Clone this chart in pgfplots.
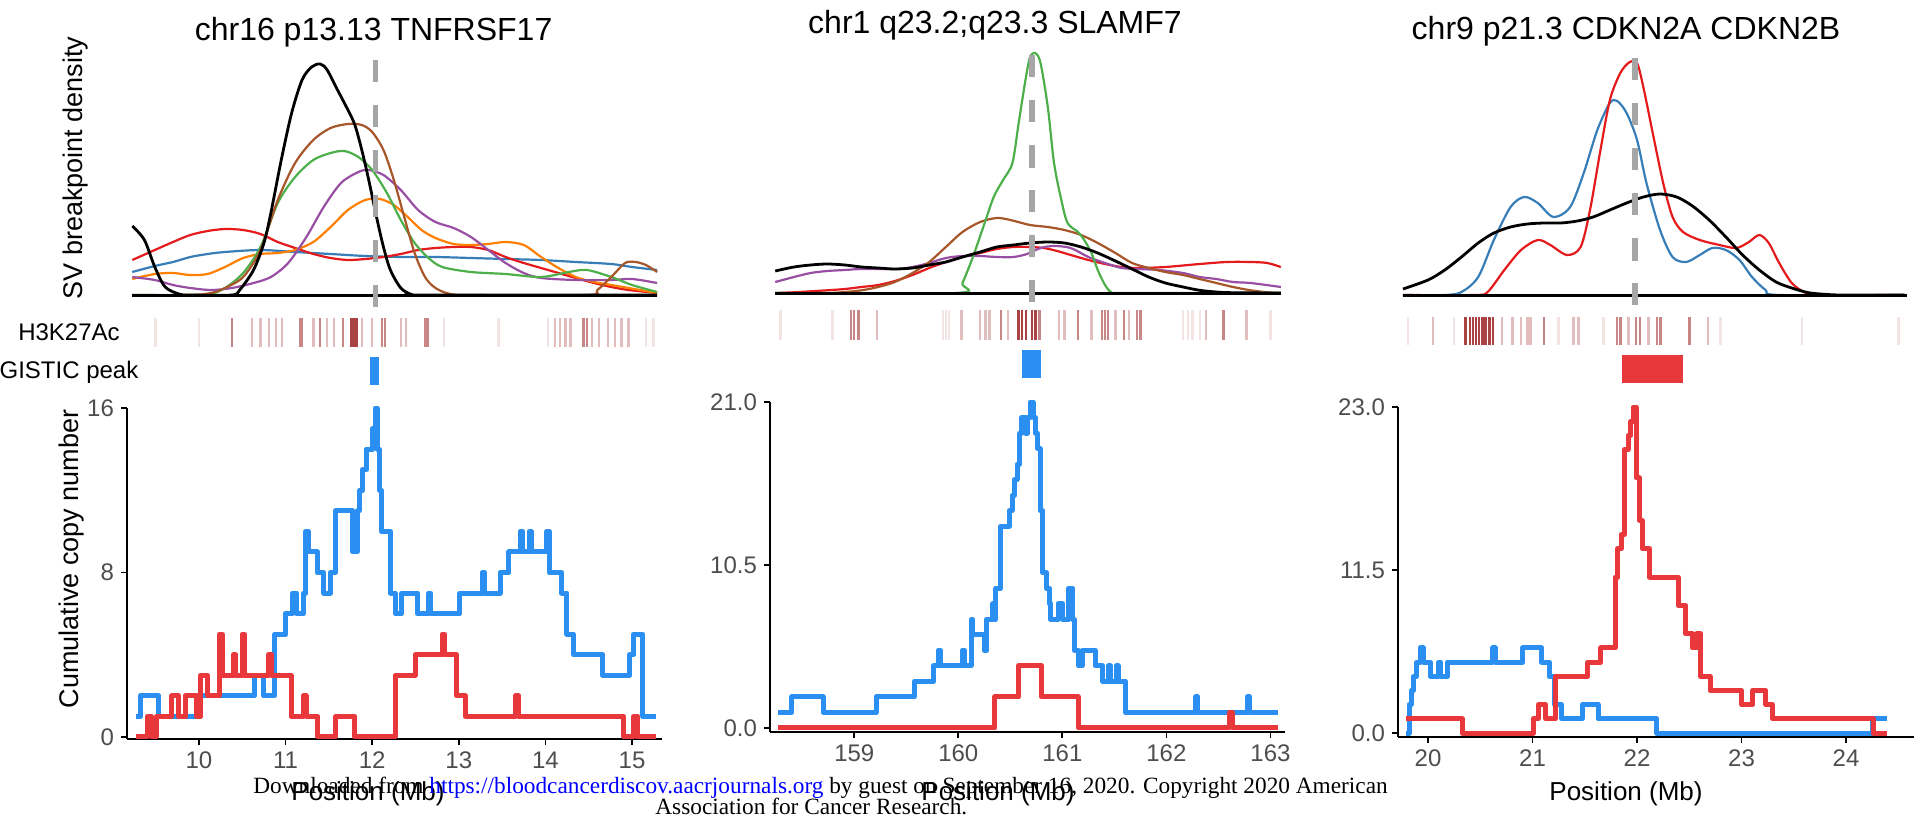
\documentclass[border=0pt]{standalone}
\usepackage{fontspec}
\setmainfont{Liberation Sans}
\newfontfamily\footfont{Liberation Serif}
\usepackage{pgfplots}
\pgfplotsset{compat=1.18}

\definecolor{setred}{HTML}{E41A1C}
\definecolor{setblue}{HTML}{377EB8}
\definecolor{setgreen}{HTML}{4DAF4A}
\definecolor{setpurple}{HTML}{984EA3}
\definecolor{setorange}{HTML}{FF7F00}
\definecolor{setbrown}{HTML}{A65628}
\definecolor{cnblue}{RGB}{42,143,240}
\definecolor{cnred}{RGB}{232,56,60}
\definecolor{h3}{RGB}{155,35,35}
\definecolor{peakgray}{RGB}{166,166,166}
\definecolor{ticktext}{RGB}{77,77,77}

\pgfplotsset{
  dens/.style={scale only axis, hide axis, clip=false, height=132.5pt,
    every axis plot/.append style={smooth, tension=0.5, line width=1.1pt}},
  track/.style={scale only axis, hide axis, clip=false, height=47.5pt,
    every axis plot/.append style={mark=none}},
  h3bar/.style={ycomb, draw=h3, line width=1.2pt},
  cn/.style={scale only axis, clip=false,
    axis x line=bottom, axis y line=left,
    axis line style={-, line width=1.1pt, black},
    tick align=outside, major tick length=3pt,
    major tick style={line width=0.9pt, black},
    ticklabel style={font=\fontsize{12}{12}\selectfont, text=ticktext},
    every axis plot/.append style={const plot, line width=2.5pt, line join=round}},
  vdash/.style={peakgray, line width=2.8pt, dash pattern=on 11pt off 11.5pt},
}

\begin{document}
\begin{tikzpicture}
\useasboundingbox (0,0) rectangle (957pt,408pt);

% ---------------- column 1: chr16 ----------------
\begin{axis}[dens, at={(63.5pt,253pt)}, anchor=south west, width=267.5pt,
  xmin=9.169, xmax=15.346, ymin=-15, ymax=250]
\addplot[setblue] coordinates {(9.23,23)(9.49,29)(9.70,33)(9.90,38)(10.10,41)(10.30,43)(10.71,45)(11.11,43)(11.52,41)(11.92,39)(12.33,38)(12.73,38)(13.14,37)(13.54,36)(13.95,35)(14.35,33)(14.76,31)(15.00,28)(15.29,25)};
\addplot[setred] coordinates {(9.23,35)(9.49,45)(9.70,53)(9.90,60)(10.10,64)(10.30,66)(10.51,65)(10.71,61)(10.91,53)(11.11,47)(11.32,41)(11.52,37)(11.72,35)(11.92,36)(12.13,38)(12.33,41)(12.53,45)(12.73,47)(12.94,48)(13.14,48)(13.34,45)(13.54,38)(13.75,32)(13.95,27)(14.15,22)(14.35,17)(14.56,12)(14.76,8)(14.96,5)(15.29,2)};
\addplot[setorange] coordinates {(9.23,16)(9.49,21)(9.70,22)(9.90,20)(10.10,21)(10.30,28)(10.51,37)(10.71,41)(10.91,42)(11.11,45)(11.32,53)(11.52,68)(11.72,85)(11.92,95)(12.09,96)(12.25,90)(12.41,78)(12.57,65)(12.73,57)(12.94,51)(13.14,50)(13.34,51)(13.54,53)(13.75,50)(13.95,38)(14.15,27)(14.35,18)(14.56,13)(14.76,10)(14.96,7)(15.29,2)};
\addplot[setpurple] coordinates {(9.23,18)(9.49,15)(9.70,10)(9.90,7)(10.14,5)(10.38,7)(10.63,12)(10.83,18)(11.03,32)(11.24,58)(11.44,88)(11.64,112)(11.84,123)(11.96,125)(12.13,120)(12.33,105)(12.53,85)(12.73,73)(12.94,67)(13.14,58)(13.34,45)(13.54,32)(13.75,22)(13.95,17)(14.35,15)(14.76,15)(15.00,16)(15.29,12)};
\addplot[setgreen] coordinates {(9.23,0)(9.70,0)(10.10,0.5)(10.30,7)(10.51,22)(10.71,48)(10.91,92)(11.11,118)(11.32,135)(11.52,142)(11.68,144)(11.84,138)(12.00,125)(12.17,102)(12.33,75)(12.49,52)(12.65,37)(12.81,28)(13.14,23)(13.54,21)(13.95,18)(14.27,23)(14.48,25)(14.76,18)(15.00,10)(15.29,3)};
\addplot[setbrown] coordinates {(9.23,0)(9.90,0)(10.14,2)(10.30,7)(10.51,18)(10.71,45)(10.91,95)(11.11,132)(11.32,155)(11.52,167)(11.72,171)(11.88,170)(12.00,163)(12.13,145)(12.25,115)(12.37,78)(12.49,42)(12.61,18)(12.73,7)(12.90,1)(13.14,0)(14.48,0)(14.60,5)(14.76,18)(14.92,32)(15.04,33)(15.16,30)(15.29,23)};
\addplot[black, line width=1.5pt] coordinates {(9.23,0)(15.29,0)};
\addplot[black, line width=1.4pt] coordinates {(9.23,69)(9.37,55)(9.49,28)(9.61,8)(9.78,0.7)(9.90,0)(10.38,0)(10.47,5)(10.63,25)(10.75,52)(10.83,82)(10.95,135)(11.07,182)(11.19,215)(11.30,228)(11.40,231)(11.48,225)(11.60,205)(11.72,185)(11.80,170)(11.88,145)(11.96,115)(12.05,78)(12.13,48)(12.21,25)(12.33,7)(12.45,0.7)(12.57,0)(15.29,0)};
\addplot[vdash] coordinates {(12.04,235)(12.04,-13)};
\end{axis}

\begin{axis}[track, at={(63.5pt,210.5pt)}, anchor=south west, width=267.5pt,
  xmin=9.169, xmax=15.346, ymin=-48, ymax=47]
\addplot[h3bar, draw opacity=0.12] coordinates {(9.50,29)(10.00,29)(12.83,29)(13.46,29)(14.03,29)(15.16,29)(15.25,29)};
\addplot[h3bar, draw opacity=0.3] coordinates {(10.61,29)(10.71,29)(10.81,29)(10.89,29)(10.96,29)(11.32,29)(11.48,29)(11.56,29)(11.88,29)(12.00,29)(12.33,29)(12.39,29)(14.11,29)(14.17,29)(14.23,29)(14.29,29)(14.54,29)(14.62,29)(14.72,29)(14.80,29)(14.88,29)(14.96,29)};
\addplot[h3bar, draw opacity=0.55] coordinates {(10.38,29)(11.17,29)(11.19,29)(11.40,29)(11.66,29)(12.11,29)(12.15,29)(12.61,29)(12.64,29)(14.44,29)(14.48,29)};
\addplot[h3bar, draw opacity=0.85] coordinates {(11.76,29)(11.79,29)(11.82,29)};
\addplot[fill=cnblue, draw=none] coordinates {(11.97,-10)(12.08,-10)(12.08,-38)(11.97,-38)};
\end{axis}

\begin{axis}[cn, at={(63.5pt,38.5pt)}, anchor=south west, width=267.5pt, height=165.5pt,
  xmin=9.169, xmax=15.346, ymin=-0.1, ymax=16,
  xtick={10,11,12,13,14,15}, xticklabels={10,11,12,13,14,15},
  ytick={0,8,16}, yticklabels={0,8,16}]
\addplot[cnblue] coordinates {(9.275,1)(9.326,2)(9.533,1)(9.997,2)(10.641,3)(10.744,2)(10.873,5)(11.002,6)(11.079,7)(11.131,6)(11.208,7)(11.234,10)(11.260,9)(11.363,8)(11.440,7)(11.517,8)(11.579,11)(11.775,9)(11.827,11)(11.852,12)(11.888,13)(11.930,14)(12.007,15)(12.033,16)(12.058,14)(12.084,12)(12.110,10)(12.213,7)(12.265,6)(12.342,7)(12.522,6)(12.651,7)(12.677,6)(13.012,7)(13.270,8)(13.295,7)(13.476,8)(13.579,9)(13.708,10)(13.734,9)(13.811,10)(13.837,9)(14.017,10)(14.043,8)(14.187,7)(14.249,5)(14.327,4)(14.662,3)(14.971,4)(15.022,5)(15.126,1)(15.280,1)};
\addplot[cnred] coordinates {(9.275,0)(9.404,1)(9.455,0)(9.507,1)(9.687,2)(9.765,1)(9.842,2)(9.971,1)(10.022,3)(10.100,2)(10.239,5)(10.270,3)(10.398,4)(10.424,3)(10.497,5)(10.527,3)(10.806,4)(10.837,3)(11.063,1)(11.208,2)(11.239,1)(11.373,0)(11.579,1)(11.800,0)(12.265,3)(12.497,4)(12.806,5)(12.837,4)(12.971,2)(13.074,1)(13.657,2)(13.688,1)(14.904,0)(15.022,1)(15.064,0)(15.280,0)};
\end{axis}

% ---------------- column 2: chr1 ----------------
\begin{axis}[dens, at={(385pt,253pt)}, anchor=south west, width=257.5pt,
  xmin=158.19, xmax=163.14, ymin=-17, ymax=248]
\addplot[setred] coordinates {(158.24,0)(158.42,0.7)(158.58,1.7)(158.74,2.7)(158.91,4)(159.07,6)(159.23,8)(159.39,12)(159.56,18)(159.72,25)(159.88,31)(160.04,36)(160.21,40)(160.37,44)(160.53,46)(160.69,46)(160.82,45)(160.95,42)(161.08,38)(161.25,33)(161.41,29)(161.57,26)(161.73,25)(161.99,26)(162.32,29)(162.58,31)(162.81,31)(162.97,30)(163.10,26)};
\addplot[setpurple] coordinates {(158.24,11)(158.42,16)(158.58,20)(158.74,22)(158.91,23)(159.07,24)(159.39,24)(159.56,26)(159.72,30)(159.88,35)(160.04,37)(160.21,37)(160.37,36)(160.53,36)(160.66,39)(160.79,45)(160.92,47)(161.08,45)(161.25,36)(161.41,30)(161.57,25)(161.73,24)(161.93,23)(162.16,20)(162.32,16)(162.48,14)(162.64,11)(162.81,10)(163.10,6)};
\addplot[setbrown] coordinates {(158.24,0)(158.74,0)(158.91,1)(159.07,2.7)(159.23,6)(159.39,11)(159.56,20)(159.72,31)(159.88,46)(160.04,61)(160.21,71)(160.37,75)(160.50,73)(160.69,68)(160.86,66)(161.02,63)(161.18,58)(161.34,50)(161.51,40)(161.67,30)(161.83,25)(161.99,21)(162.16,18)(162.32,14)(162.48,10)(162.64,6)(162.81,2.7)(162.97,0.7)(163.10,0)};
\addplot[setgreen] coordinates {(158.24,0)(159.98,0)(160.04,10)(160.14,36)(160.24,66)(160.34,96)(160.43,113)(160.52,130)(160.58,170)(160.65,216)(160.69,236)(160.74,240)(160.79,230)(160.86,186)(160.92,130)(160.99,93)(161.05,70)(161.15,61)(161.21,53)(161.28,40)(161.34,23)(161.41,8)(161.47,0.7)(161.54,0)(163.10,0)};
\addplot[black, line width=1.5pt] coordinates {(158.24,0)(163.10,0)};
\addplot[black, line width=1.4pt] coordinates {(158.24,22)(158.42,26)(158.58,28)(158.74,29)(158.91,28)(159.07,26)(159.23,25)(159.39,24)(159.56,25)(159.72,28)(159.88,31)(160.04,36)(160.21,41)(160.37,46)(160.53,48)(160.69,50)(160.86,51)(161.02,50)(161.18,46)(161.34,40)(161.51,32)(161.67,24)(161.83,16)(161.99,10)(162.16,6)(162.32,2.7)(162.48,1)(162.64,0.3)(163.10,0)};
\addplot[vdash] coordinates {(160.71,238)(160.71,-9)};
\end{axis}

\begin{axis}[track, at={(385pt,210.5pt)}, anchor=south west, width=257.5pt,
  xmin=158.19, xmax=163.14, ymin=-55, ymax=40]
\addplot[h3bar, draw opacity=0.12] coordinates {(158.29,30)(158.79,30)(159.85,30)(159.88,30)(159.91,30)(162.16,30)(162.21,30)(162.25,30)(162.32,30)(163.00,30)};
\addplot[h3bar, draw opacity=0.3] coordinates {(159.22,30)(160.03,30)(160.21,30)(160.26,30)(160.30,30)(160.48,30)(160.97,30)(161.02,30)(161.28,30)(161.51,30)(161.64,30)(162.38,30)(162.77,30)};
\addplot[h3bar, draw opacity=0.55] coordinates {(158.97,30)(159.00,30)(159.04,30)(160.41,30)(160.78,30)(161.15,30)(161.38,30)(161.41,30)(161.44,30)(161.59,30)(161.72,30)(161.75,30)(162.55,30)};
\addplot[h3bar, draw opacity=0.85] coordinates {(160.58,30)(160.61,30)(160.65,30)(160.71,30)(160.74,30)};
\addplot[fill=cnblue, draw=none] coordinates {(160.61,-10)(160.79,-10)(160.79,-38)(160.61,-38)};
\end{axis}

\begin{axis}[cn, at={(385pt,42pt)}, anchor=south west, width=257.5pt, height=165pt,
  xmin=158.19, xmax=163.14, ymin=-0.26, ymax=21,
  xtick={159,160,161,162,163}, xticklabels={159,160,161,162,163},
  ytick={0,10.5,21}, yticklabels={0.0,10.5,21.0}]
\addplot[cnblue] coordinates {(158.271,1)(158.400,2)(158.702,1)(159.210,2)(159.578,3)(159.762,4)(159.806,5)(159.828,4)(160.038,5)(160.056,4)(160.123,7)(160.137,6)(160.248,5)(160.270,7)(160.332,8)(160.343,7)(160.358,9)(160.406,13)(160.490,14)(160.516,15)(160.542,16)(160.564,17)(160.590,19)(160.608,20)(160.645,19)(160.667,20)(160.689,21)(160.719,20)(160.741,19)(160.763,18)(160.785,14)(160.811,10)(160.847,9)(160.873,8)(160.888,7)(160.958,8)(161.006,7)(161.057,9)(161.101,7)(161.116,5)(161.153,4)(161.190,5)(161.315,4)(161.388,3)(161.444,4)(161.462,3)(161.517,4)(161.536,3)(161.609,1)(162.283,2)(162.301,1)(162.779,2)(162.801,1)(163.074,1)};
\addplot[cnred] coordinates {(158.271,0)(160.351,2)(160.579,4)(160.800,2)(161.153,0)(162.603,1)(162.640,0)(163.074,0)};
\end{axis}

% ---------------- column 3: chr9 ----------------
\begin{axis}[dens, at={(699pt,253pt)}, anchor=south west, width=258pt,
  xmin=19.713, xmax=24.65, ymin=-15, ymax=250]
\addplot[setblue] coordinates {(19.76,0)(20.16,0)(20.32,3)(20.48,18)(20.63,55)(20.79,88)(20.92,98)(21.05,92)(21.20,78)(21.36,88)(21.49,122)(21.62,165)(21.74,192)(21.81,194)(21.90,182)(22.00,155)(22.09,112)(22.22,65)(22.34,38)(22.47,33)(22.60,40)(22.72,47)(22.85,45)(22.98,35)(23.10,18)(23.23,5)(23.36,0)(24.56,0)};
\addplot[setred] coordinates {(19.76,0)(20.44,0)(20.57,3)(20.73,25)(20.89,45)(21.05,55)(21.17,50)(21.33,40)(21.46,48)(21.55,85)(21.65,145)(21.74,195)(21.84,222)(21.93,233)(22.00,232)(22.06,208)(22.15,162)(22.25,112)(22.34,78)(22.44,63)(22.60,55)(22.79,50)(22.95,47)(23.07,53)(23.17,60)(23.26,52)(23.36,32)(23.48,12)(23.61,2.3)(23.74,0)(24.56,0)};
\addplot[black, line width=1.5pt] coordinates {(19.76,0)(24.58,0)};
\addplot[black, line width=1.4pt] coordinates {(19.76,6)(20.00,15)(20.16,25)(20.32,38)(20.48,52)(20.63,62)(20.79,68)(20.95,71)(21.11,72)(21.27,72)(21.43,74)(21.58,78)(21.74,85)(21.90,92)(22.06,98)(22.22,101)(22.38,98)(22.53,89)(22.69,75)(22.85,58)(23.01,40)(23.17,25)(23.33,13)(23.48,7)(23.64,2.3)(23.80,0.7)(23.96,0)(24.56,0)};
\addplot[vdash] coordinates {(21.98,237)(21.98,-13)};
\end{axis}

\begin{axis}[track, at={(699pt,210.5pt)}, anchor=south west, width=258pt,
  xmin=19.713, xmax=24.65, ymin=-50, ymax=45]
\addplot[h3bar, draw opacity=0.12] coordinates {(19.81,28)(20.25,28)(21.25,28)(21.68,28)(22.80,28)(23.58,28)(24.50,28)};
\addplot[h3bar, draw opacity=0.3] coordinates {(20.05,28)(20.71,28)(20.81,28)(20.89,28)(20.95,28)(20.98,28)(21.39,28)(21.44,28)(21.92,28)(22.11,28)(22.68,28)};
\addplot[h3bar, draw opacity=0.55] coordinates {(21.11,28)(21.81,28)(21.84,28)(21.99,28)(22.03,28)(22.19,28)(22.22,28)(22.23,28)(22.50,28)};
\addplot[h3bar, draw opacity=0.85] coordinates {(20.36,28)(20.40,28)(20.43,28)(20.46,28)(20.49,28)(20.52,28)(20.55,28)(20.59,28)(20.62,28)};
\addplot[fill=cnred, draw=none] coordinates {(21.86,-10)(22.44,-10)(22.44,-38)(21.86,-38)};
\end{axis}

\begin{axis}[cn, at={(699pt,39.5pt)}, anchor=south west, width=258pt, height=165pt,
  xmin=19.713, xmax=24.65, ymin=-0.28, ymax=23,
  xtick={20,21,22,23,24}, xticklabels={20,21,22,23,24},
  ytick={0,11.5,23}, yticklabels={0.0,11.5,23.0}]
\addplot[cnblue] coordinates {(19.793,0)(19.818,2)(19.839,3)(19.861,4)(19.889,5)(19.925,6)(19.953,5)(20.025,4)(20.103,5)(20.124,4)(20.185,5)(20.620,6)(20.641,5)(20.908,6)(21.087,5)(21.158,4)(21.211,2)(21.279,1)(21.479,2)(21.628,1)(22.188,0)(24.255,1)(24.390,1)};
\addplot[cnred] coordinates {(19.793,1)(20.328,0)(21.008,1)(21.055,2)(21.126,1)(21.218,4)(21.529,5)(21.653,6)(21.789,11)(21.814,13)(21.849,14)(21.878,20)(21.914,21)(21.942,22)(21.963,23)(21.992,18)(22.020,15)(22.049,13)(22.120,11)(22.395,9)(22.466,7)(22.527,6)(22.573,7)(22.609,4)(22.698,3)(23.000,2)(23.107,3)(23.232,2)(23.296,1)(24.258,0)(24.390,0)};
\end{axis}

% ---------------- texts ----------------
\node[anchor=base, font=\fontsize{16}{16}\selectfont] at (186.8pt,387.5pt) {chr16 p13.13 TNFRSF17};
\node[anchor=base, font=\fontsize{16}{16}\selectfont] at (497.5pt,391pt) {chr1 q23.2;q23.3 SLAMF7};
\node[anchor=base, font=\fontsize{16}{16}\selectfont] at (813pt,388pt) {chr9 p21.3 CDKN2A CDKN2B};
\node[rotate=90, font=\fontsize{13.5}{13.5}\selectfont] at (38pt,324pt) {SV breakpoint density};
\node[rotate=90, font=\fontsize{13.5}{13.5}\selectfont] at (36pt,128.5pt) {Cumulative copy number};
\node[anchor=base, font=\fontsize{12}{12}\selectfont] at (34.5pt,238pt) {H3K27Ac};
\node[anchor=base, font=\fontsize{12}{12}\selectfont] at (34.5pt,219pt) {GISTIC peak};
\node[anchor=base, font=\fontsize{13}{13}\selectfont] at (184pt,8pt) {Position (Mb)};
\node[anchor=base, font=\fontsize{13}{13}\selectfont] at (499pt,8pt) {Position (Mb)};
\node[anchor=base, font=\fontsize{13}{13}\selectfont] at (813pt,8pt) {Position (Mb)};
\node[anchor=base west, inner sep=0pt, font=\footfont\fontsize{11.65}{11.65}\selectfont] at (126.5pt,11.5pt)
  {Downloaded from {\color{blue}https://bloodcancerdiscov.aacrjournals.org} by guest on September 16, 2020. Copyright 2020 American};
\node[anchor=base west, inner sep=0pt, font=\footfont\fontsize{11.65}{11.65}\selectfont] at (327.5pt,1pt)
  {Association for Cancer Research.};
\end{tikzpicture}
\end{document}
